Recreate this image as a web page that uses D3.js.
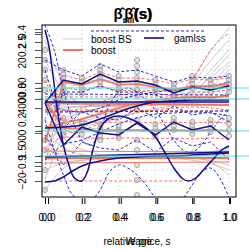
<!DOCTYPE html>
<html><head><meta charset="utf-8">
<script src="https://cdn.jsdelivr.net/npm/d3@7"></script>
<style>body{margin:0;background:#fff}svg{display:block}text{font-family:"Liberation Sans",Arial,sans-serif}</style>
</head><body><svg id="c" width="249" height="249"></svg>
<script>
// ---------- data ----------
const lags = [0,0.1,0.2,0.3,0.4,0.5,0.6,0.7,0.8,0.9,1.0];
const gamUpper   = [1.06,1.52,1.44,1.64,1.48,1.50,1.42,1.26,1.38,1.32,1.40];
const boostUpper = [0.26,1.48,1.42,1.54,1.42,1.44,1.38,1.32,1.40,1.40,1.44];
const gamLower   = [1.06,0.22,0.58,0.46,0.42,0.66,0.42,0.68,0.52,0.60,0.32];
const boostLower = [1.12,0.56,0.54,0.50,0.52,0.52,0.50,0.52,0.50,0.52,0.50];
const gamUpperHi   = [1.92,1.72,1.60,1.84,1.68,1.72,1.60,1.48,1.58,1.56,1.60];
const gamUpperLo   = [0.32,1.28,1.28,1.40,1.28,1.28,1.22,1.08,1.18,1.16,1.22];
const boostUpperHi = [0.72,1.62,1.52,1.68,1.56,1.56,1.52,1.44,1.54,1.52,1.56];
const boostUpperLo = [-0.18,1.36,1.32,1.40,1.30,1.32,1.26,1.20,1.28,1.28,1.32];
const gamLowerHi   = [1.72,0.56,0.88,0.76,0.72,0.96,0.76,1.00,0.82,0.88,0.68];
const gamLowerLo   = [0.42,-0.18,0.28,0.16,0.12,0.32,0.08,0.36,0.20,0.28,-0.08];
const boostLowerHi = [1.52,0.72,0.70,0.66,0.68,0.68,0.66,0.68,0.66,0.68,0.66];
const boostLowerLo = [0.62,0.38,0.38,0.34,0.36,0.36,0.34,0.36,0.34,0.36,0.34];
const gamSmooth    = [0.56,0.58,0.62,0.74,0.88,1.00,1.08,1.10,1.12,1.12,1.12];
const boostSmooth  = [0.56,0.66,0.74,0.84,0.96,1.06,1.12,1.16,1.18,1.18,1.20];
const gamSmoothHi  = [1.12,0.92,0.88,0.96,1.12,1.22,1.28,1.32,1.36,1.40,1.48];
const gamSmoothLo  = [-0.08,0.22,0.32,0.48,0.64,0.76,0.84,0.86,0.88,0.86,0.80];
const boostSmoothHi= [0.92,0.88,0.96,1.08,1.20,1.28,1.32,1.28,1.52,2.12,2.46];
const boostSmoothLo= [0.12,0.42,0.52,0.64,0.76,0.86,0.92,0.96,0.98,0.96,0.92];

const ends = [0,1];
const boostFlat  = [1.06,1.02];
const gamFlat    = [1.08,1.08];
const boostFlat2 = [-0.04,-0.04];
const gamFlat2   = [-0.02,0.08];
const boostFlat3 = [0.10,0.08];
const boostFlat4 = [-0.14,-0.12];
const boostFlatHi = [1.18,1.18];
const boostFlatLo = [0.92,0.90];
const gamFlatHi = [1.24,1.22];
const gamFlatLo = [0.88,0.90];
const boostDashBottomX = [0.05,0.75];
const boostDashBottom  = [-0.50,-0.50];
const gamDashTopX = [0.25,0.87];
const gamDashTop  = [2.50,2.50];

const wigX = [0,0.02,0.04,0.06,0.08,0.1,0.13,0.16,0.2,0.23,0.26,0.3,0.35,0.4,0.45,0.5,0.55,0.6,0.65,0.7,0.75,0.78,0.82,0.87,0.92,0.96,1.0];
const gamWiggle = [2.52,2.22,1.72,1.12,0.62,0.22,-0.18,-0.44,-0.50,-0.32,0.12,0.56,0.76,0.80,0.76,0.68,0.56,0.38,0.08,-0.24,-0.46,-0.50,-0.44,-0.24,-0.04,0.12,0.20];
const wigBandX = [0,0.05,0.1,0.15,0.2,0.25,0.3,0.35,0.4,0.45,0.5,0.55,0.6,0.65,0.7,0.75,0.8,0.85,0.9,0.95,1.0];
const gamWiggleHi = [2.62,2.12,1.32,0.72,0.32,0.22,0.52,1.02,1.28,1.36,1.28,1.12,0.92,0.62,0.32,0.12,0.08,0.22,0.48,0.72,0.92];
const gamWiggleLo = [0.72,0.12,-0.38,-0.78,-0.88,-0.88,-0.68,-0.32,-0.18,-0.24,-0.38,-0.58,-0.84,-0.98,-0.98,-0.84,-0.58,-0.32,-0.24,-0.44,-0.84];
const riseX = [0,0.05,0.1,0.15,0.2,0.3,0.4,0.5,0.6,0.7,0.8,0.9,1.0];
const gamRise = [-0.52,-0.50,-0.42,-0.30,-0.20,-0.10,-0.04,-0.02,0,0,0.02,0.04,0.06];

const bootBS = [
 [1.92,1.22,1.02,0.98,1.00,1.04,1.08,1.12,1.42,1.92,2.32],
 [0.12,0.72,0.88,0.96,1.02,1.06,1.08,1.08,1.22,1.62,2.02],
 [0.56,0.76,0.88,0.96,1.04,1.06,1.06,1.02,1.12,1.36,1.72],
 [1.32,1.12,1.04,1.00,1.00,1.02,1.04,1.06,1.16,1.32,1.52],
 [-0.48,0.52,0.76,0.88,0.96,1.02,1.04,1.00,1.04,1.12,1.28],
 [0.92,0.96,0.98,1.00,1.02,1.04,1.04,1.04,1.32,1.72,2.12],
 [0.32,0.52,0.72,0.88,1.00,1.08,1.12,1.14,1.20,1.42,1.82],
 [2.32,1.32,0.92,0.88,0.92,0.98,1.02,1.04,1.08,1.22,1.42],
 [-0.68,-0.18,-0.08,-0.04,-0.02,-0.02,-0.02,-0.02,-0.04,-0.08,-0.18],
 [0.52,0.12,0.02,-0.02,-0.04,-0.04,-0.02,0,0.02,0.08,0.16],
 [-0.28,-0.12,-0.08,-0.06,-0.06,-0.04,-0.04,-0.04,-0.08,-0.14,-0.28],
 [0.12,0.02,0,-0.02,0,0,0.02,0.02,0.04,0.06,0.12],
 [-0.08,-0.04,-0.02,0,0.02,0.02,0.02,0,-0.02,-0.08,-0.38],
 [0.72,0.32,0.12,0.02,-0.02,-0.04,-0.04,-0.02,0,0.02,0.02],
 [0.56,0.60,0.68,0.80,0.92,1.02,1.08,1.12,1.14,1.16,1.20],
 [0.56,0.54,0.58,0.66,0.78,0.88,0.96,1.00,1.02,1.04,1.04],
 [1.12,0.42,0.48,0.50,0.50,0.50,0.48,0.50,0.50,0.50,0.52],
 [-0.08,0.56,0.56,0.54,0.52,0.52,0.54,0.52,0.52,0.54,0.50],
 [0.92,1.52,1.44,1.56,1.46,1.48,1.40,1.32,1.40,1.38,1.42],
 [0.32,1.44,1.40,1.52,1.44,1.44,1.36,1.28,1.36,1.36,1.40],
 [1.02,1.02,1.04,1.04,1.04,1.06,1.08,1.12,1.52,2.12,2.56],
 [0.96,0.98,1.00,1.00,1.02,1.04,1.06,1.08,1.28,1.56,1.88]
];

const ptsV = [
 [2.12,1.92,1.72,1.52,1.32,0.32,0.12,-0.28,-0.68],
 [1.72,1.64,1.56,1.46,1.36,1.26,1.16,0.76,0.64,0.52,0.40],
 [1.56,1.48,1.40,1.32,1.24,0.68,0.60,0.52,0.44],
 [1.80,1.72,1.64,1.56,1.48,1.40,0.64,0.56,0.48,0.40,0.32],
 [1.60,1.52,1.44,1.36,1.28,0.60,0.52,0.44,0.36],
 [1.92,1.80,1.68,1.56,1.44,1.32,1.20,0.92,0.72,0.32,0.12,-0.18,-0.48,-0.78],
 [1.52,1.44,1.36,1.28,0.64,0.56,0.48,0.40],
 [1.44,1.36,1.28,1.20,1.12,0.76,0.68,0.60,0.52],
 [1.60,1.52,1.44,1.36,0.68,0.60,0.52,0.44],
 [1.52,1.44,1.36,1.28,0.72,0.64,0.56,0.48],
 [1.60,1.52,1.44,1.36,1.28,0.76,0.64,0.52,0.40]
];

const refLines = [1.36,1.14,0.50,0];
const gridYV = [2.12,1.72,0.72,-0.28];

const xTicks = [0,0.2,0.4,0.6,0.8,1.0];
const xTickLabels = ["0.0","0.2","0.4","0.6","0.8","1.0"];
const yTicks = [2.54,2.48,2.44,2.28,2.12,1.98,1.86,1.46,1.36,1.30,1.14,0.96,0.60,0.50,0.46,0,-0.12,-0.20,-0.30,-0.50];
const yLabelPos = [2.48,2.28,2.12,1.86,1.46,1.32,1.16,1.00,0.72,0.36,0.08,-0.18,-0.50];
const yLabelText = ["0.4","2.5","0.2","20","80","0.0","00","400","0.2","000","1.5","\u22120.9","\u221220"];

const legendLabels = ["boost BS","boost","gamlss"];
const legendColors = ["#cfcfcf","#f4735e","#10108a"];

// ---------- layout ----------
const svg = d3.select("#c");
const box = {l:42, r:236, t:25, b:197};
const x = d3.scaleLinear().domain([0,1]).range([45,229]);
const x2 = d3.scaleLinear().domain([0,1]).range([48,230]);
const y = d3.scaleLinear().domain([-0.84,2.62]).range([198,25]);

const RED = "#f4735e", BLUE = "#10108a", BLUED = "#2b2bd0", GRAY = "#b8b8b8";

svg.append("clipPath").attr("id","clip").append("rect")
  .attr("x",box.l).attr("y",box.t).attr("width",box.r-box.l).attr("height",box.b-box.t);
const g = svg.append("g").attr("clip-path","url(#clip)");

// grid
g.selectAll(".gx").data(xTicks).join("line")
  .attr("x1",d=>x(d)).attr("x2",d=>x(d)).attr("y1",box.t).attr("y2",box.b)
  .attr("stroke","#d8d8d8").attr("stroke-width",0.8).attr("stroke-dasharray","2,2");
g.selectAll(".gy").data(gridYV).join("line")
  .attr("x1",box.l).attr("x2",box.r).attr("y1",d=>y(d)).attr("y2",d=>y(d))
  .attr("stroke","#dcdcdc").attr("stroke-width",0.8).attr("stroke-dasharray","2,2");

const lineXY = (xs, ys, curve) => d3.line().x((d,i)=>x(xs[i])).y(d=>y(d)).curve(curve||d3.curveLinear)(ys);

// bootstrap curves
bootBS.forEach(v=>{
  g.append("path").attr("d",lineXY(lags,v,d3.curveBasis)).attr("fill","none")
   .attr("stroke",GRAY).attr("stroke-width",0.9).attr("opacity",0.85);
});

// gray points
ptsV.forEach((col,i)=>{
  g.selectAll(null).data(col).join("circle")
   .attr("cx",x(lags[i])).attr("cy",d=>y(d)).attr("r",2.6)
   .attr("fill","rgba(180,180,180,0.4)").attr("stroke","#9a9a9a").attr("stroke-width",0.8);
});

function path(xs, ys, color, w, dash, curve){
  const p = g.append("path").attr("d",lineXY(xs,ys,curve)).attr("fill","none")
    .attr("stroke",color).attr("stroke-width",w);
  if(dash) p.attr("stroke-dasharray",dash);
  return p;
}
// dashed bands
const RD = "3,2";
path(lags,boostUpperHi,RED,1,RD); path(lags,boostUpperLo,RED,1,RD);
path(lags,boostLowerHi,RED,1,RD); path(lags,boostLowerLo,RED,1,RD);
path(lags,boostSmoothHi,RED,1,RD,d3.curveMonotoneX); path(lags,boostSmoothLo,RED,1,RD,d3.curveMonotoneX);
path(ends,boostFlatHi,RED,1,RD); path(ends,boostFlatLo,RED,1,RD);
path(boostDashBottomX,boostDashBottom,RED,1,RD);
path(lags,gamUpperHi,BLUED,1,RD); path(lags,gamUpperLo,BLUED,1,RD);
path(lags,gamLowerHi,BLUED,1,RD); path(lags,gamLowerLo,BLUED,1,RD);
path(lags,gamSmoothHi,BLUED,1,RD,d3.curveMonotoneX); path(lags,gamSmoothLo,BLUED,1,RD,d3.curveMonotoneX);
path(ends,gamFlatHi,BLUED,1,RD); path(ends,gamFlatLo,BLUED,1,RD);
path(wigBandX,gamWiggleHi,BLUED,1,RD,d3.curveCatmullRom); path(wigBandX,gamWiggleLo,BLUED,1,RD,d3.curveCatmullRom);
path(gamDashTopX,gamDashTop,BLUED,1,RD);

// solid estimates
path(ends,boostFlat,RED,2.2); path(ends,boostFlat2,RED,2.2);
path(ends,boostFlat3,RED,1); path(ends,boostFlat4,RED,1);
path(lags,boostSmooth,RED,1.6,null,d3.curveMonotoneX);
path(lags,boostUpper,RED,1.6); path(lags,boostLower,RED,1.6);
path(ends,gamFlat,BLUE,1.6); path(ends,gamFlat2,BLUE,1.6);
path(lags,gamSmooth,BLUE,1.5,null,d3.curveMonotoneX);
path(lags,gamUpper,BLUE,1.5); path(lags,gamLower,BLUE,1.5);
path(wigX,gamWiggle,BLUE,1.5,null,d3.curveCatmullRom);
path(riseX,gamRise,BLUE,1.5,null,d3.curveMonotoneX);

// reference lines (extend beyond box)
svg.selectAll(".ref").data(refLines).join("line")
  .attr("x1",38).attr("x2",249).attr("y1",d=>y(d)).attr("y2",d=>y(d))
  .attr("stroke","#4fe3e3").attr("stroke-width",1);

// box
svg.append("rect").attr("x",box.l).attr("y",box.t).attr("width",box.r-box.l).attr("height",box.b-box.t)
  .attr("fill","none").attr("stroke","#000").attr("stroke-width",1);

// legend
const leg = [{x1:63,x2:83,yy:39,tx:91,w:1},{x1:63,x2:83,yy:50,tx:91,w:2},{x1:144,x2:164,yy:38,tx:174,w:1.6}];
leg.forEach((L,i)=>{
  svg.append("line").attr("x1",L.x1).attr("x2",L.x2).attr("y1",L.yy).attr("y2",L.yy)
    .attr("stroke",legendColors[i]).attr("stroke-width",L.w);
  svg.append("text").attr("x",L.tx).attr("y",L.yy).attr("dy","0.35em").attr("font-size",10)
    .attr("fill","#000").text(legendLabels[i]);
});

// x axes (two overlapping)
[x,x2].forEach(sc=>{
  const ax = svg.append("g").attr("transform",`translate(0,${box.b+1})`)
    .call(d3.axisBottom(sc).tickValues(xTicks).tickFormat((d,i)=>xTickLabels[i]).tickSize(6).tickPadding(10));
  ax.select(".domain").remove();
  ax.selectAll("text").attr("font-size",10).attr("fill","#000").attr("font-family","Liberation Sans, Arial, sans-serif");
  ax.selectAll("line").attr("stroke","#000");
});

// y axis
const ay = svg.append("g").attr("transform",`translate(${box.l},0)`)
  .call(d3.axisLeft(y).tickValues(yTicks).tickFormat("").tickSize(7));
ay.select(".domain").remove();
ay.selectAll("line").attr("stroke","#555");
svg.selectAll(".ylab").data(yLabelPos).join("text")
  .attr("transform",d=>`translate(26,${y(d)}) rotate(-90)`)
  .attr("text-anchor","middle").attr("font-size",10).attr("fill","#000")
  .text((d,i)=>yLabelText[i]);

// titles
svg.append("text").attr("x",138).attr("y",19).attr("text-anchor","middle")
  .attr("font-size",15).attr("font-weight","bold").text("\u03B2\u0302(s)");
const t2 = svg.append("text").attr("x",133).attr("y",19).attr("text-anchor","middle")
  .attr("font-size",15).attr("font-weight","bold");
t2.append("tspan").text("\u03B2\u0302");
t2.append("tspan").attr("font-size",8).attr("dy",4).text("bill");
t2.append("tspan").attr("dy",-4).text("(s)");

svg.append("text").attr("x",137).attr("y",245).attr("text-anchor","middle").attr("font-size",10).text("relative price, s");
svg.append("text").attr("x",139).attr("y",245).attr("text-anchor","middle").attr("font-size",10).text("Wage");
</script></body></html>
